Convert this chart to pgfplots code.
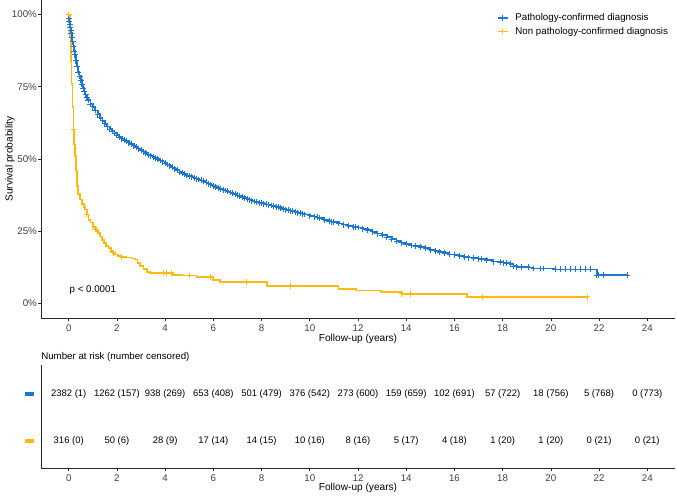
\documentclass[border=0pt]{standalone}
\usepackage{pgfplots}
\pgfplotsset{compat=1.18}
\usepackage{fontspec}
\setmainfont{Liberation Sans}
\definecolor{kblue}{RGB}{30,118,210}
\definecolor{korange}{RGB}{255,185,15}
\begin{document}
\fontsize{7.3}{8.8}\selectfont
\begin{tikzpicture}
\useasboundingbox (0,0) rectangle (507.75pt,-373.5pt);
\pgfplotsset{
  kmbase/.style={scale only axis, width=475.5pt, xmin=-1.15, xmax=25.15,
    axis x line*=bottom, axis y line*=left,
    axis line style={-, black!85, line width=0.5pt},
    tick align=outside, major tick length=2.3pt,
    tick style={black!85, line width=0.5pt},
    xtick={0,2,...,24}, xticklabels={0,2,4,6,8,10,12,14,16,18,20,22,24},
    ticklabel style={font=\fontsize{7.3}{8.8}\selectfont, text=black!75},
    label style={font=\fontsize{7.6}{9}\selectfont},
    /pgf/number format/assume math mode=true, clip=false}
}
% ---------------- survival plot ----------------
\begin{axis}[kmbase, at={(30.75pt,-238.5pt)}, anchor=south west, height=238.5pt,
  ymin=-0.05, ymax=1.05,
  ytick={0,0.25,0.5,0.75,1}, yticklabels={0\%,25\%,50\%,75\%,100\%},
  yticklabel style={xshift=1.8pt},
  xlabel={Follow-up (years)}, ylabel={Survival probability},
  xlabel style={at={(axis description cs:0.5,-0.066)}, anchor=center},
  ylabel style={at={(axis description cs:-0.049,0.5)}, anchor=center},
  legend style={at={(0.719,0.962)}, anchor=north west, draw=none, fill=none,
    font=\fontsize{7.3}{8.8}\selectfont, row sep=1.8pt, column sep=4pt, inner sep=0pt,
    nodes={inner sep=1pt}},
  legend cell align=left,
  legend image code/.code={\draw[mark repeat=2,mark phase=2,#1] plot coordinates {(0cm,0cm) (0.13cm,0cm) (0.26cm,0cm)};}
]
\addplot[korange, line width=1.3pt, const plot, mark=none, forget plot] coordinates {
(0,1.0) (0.04,0.92) (0.08,0.84) (0.12,0.76) (0.16,0.68) (0.2,0.602) (0.23,0.55) (0.27,0.51)
(0.3,0.46) (0.34,0.406) (0.4,0.38) (0.47,0.36) (0.55,0.345) (0.62,0.335) (0.68,0.325) (0.75,0.308)
(0.82,0.29) (0.9,0.28) (1.0,0.265) (1.1,0.256) (1.2,0.245) (1.3,0.232) (1.37,0.221) (1.45,0.21)
(1.55,0.20) (1.65,0.193) (1.75,0.183) (1.85,0.176) (1.93,0.17) (2.05,0.165) (2.17,0.162) (2.4,0.159)
(2.6,0.156) (2.76,0.152) (2.85,0.14) (2.96,0.129) (3.1,0.12) (3.25,0.11) (3.38,0.106) (4.34,0.10)
(4.69,0.097) (5.3,0.091) (6.0,0.081) (6.28,0.075) (8.22,0.06) (11.19,0.051) (11.93,0.045) (12.95,0.039)
(13.82,0.034) (16.52,0.023) (21.5,0.023)
};
\addplot[korange, only marks, mark=+, mark size=2.2pt, mark options={line width=0.75pt}, forget plot] coordinates {
(0,1.0) (0.2,0.602) (0.75,0.308) (1.1,0.256) (1.15,0.256) (1.85,0.176) (2.17,0.162) (3.92,0.106)
(4.05,0.106) (4.25,0.106) (5.0,0.097) (5.87,0.091) (7.39,0.075) (9.19,0.06) (13.82,0.034) (14.17,0.034)
(17.15,0.023) (21.5,0.023)
};
\addplot[kblue, line width=1.3pt, const plot, mark=+, mark size=2.2pt, mark options={solid, line width=0.75pt}] coordinates {
(0,0.985) (0.02,0.975) (0.04,0.965) (0.06,0.955) (0.08,0.945) (0.1,0.935) (0.13,0.92) (0.16,0.905)
(0.2,0.89) (0.22,0.873) (0.25,0.86) (0.3,0.84) (0.35,0.82) (0.4,0.80) (0.45,0.786) (0.5,0.772)
(0.55,0.758) (0.6,0.745) (0.65,0.733) (0.7,0.722) (0.75,0.712) (0.8,0.703) (0.9,0.69) (1.0,0.68)
(1.1,0.668) (1.2,0.655) (1.3,0.643) (1.4,0.632) (1.5,0.622) (1.6,0.612) (1.7,0.603) (1.8,0.596)
(1.9,0.589) (2.0,0.582) (2.1,0.576) (2.2,0.570) (2.3,0.565) (2.4,0.561) (2.5,0.556) (2.6,0.551)
(2.7,0.546) (2.8,0.541) (2.9,0.535) (3.0,0.530) (3.1,0.525) (3.2,0.520) (3.3,0.515) (3.4,0.511)
(3.5,0.507) (3.6,0.503) (3.7,0.499) (3.8,0.495) (3.9,0.491) (4.0,0.486) (4.1,0.481) (4.2,0.476)
(4.3,0.471) (4.4,0.466) (4.5,0.461) (4.6,0.455) (4.7,0.451) (4.8,0.447) (4.9,0.443) (5.0,0.440)
(5.1,0.438) (5.2,0.435) (5.3,0.432) (5.4,0.429) (5.5,0.426) (5.6,0.423) (5.7,0.419) (5.8,0.415)
(5.9,0.411) (6.0,0.407) (6.1,0.403) (6.2,0.399) (6.3,0.396) (6.4,0.393) (6.5,0.391) (6.6,0.388)
(6.7,0.384) (6.8,0.381) (6.9,0.378) (7.0,0.374) (7.1,0.371) (7.2,0.368) (7.3,0.365) (7.4,0.362)
(7.5,0.359) (7.6,0.356) (7.7,0.353) (7.8,0.351) (7.9,0.349) (8.0,0.347) (8.1,0.345) (8.2,0.343)
(8.3,0.341) (8.4,0.339) (8.5,0.337) (8.6,0.335) (8.7,0.333) (8.8,0.330) (8.9,0.327) (9.0,0.325)
(9.1,0.323) (9.2,0.321) (9.3,0.319) (9.4,0.317) (9.5,0.314) (9.6,0.312) (9.7,0.310) (9.8,0.308)
(10.0,0.304) (10.2,0.300) (10.3,0.298) (10.4,0.295) (10.6,0.290) (10.8,0.285) (10.9,0.283) (11.0,0.281)
(11.2,0.277) (11.4,0.273) (11.6,0.269) (11.8,0.266) (11.9,0.265) (12.0,0.263) (12.2,0.259) (12.4,0.254)
(12.6,0.248) (12.8,0.242) (13.0,0.236) (13.2,0.229) (13.4,0.222) (13.6,0.216) (13.8,0.210) (14.0,0.205)
(14.2,0.201) (14.4,0.198) (14.6,0.195) (14.8,0.191) (15.0,0.186) (15.2,0.182) (15.4,0.178) (15.6,0.174)
(15.8,0.170) (16.0,0.168) (16.2,0.165) (16.4,0.162) (16.6,0.159) (16.8,0.157) (17.0,0.155) (17.14,0.155)
(17.35,0.150) (17.62,0.145) (17.90,0.143) (18.04,0.141) (18.18,0.139) (18.32,0.137) (18.45,0.129) (18.59,0.127)
(18.80,0.127) (19.08,0.125) (19.28,0.121) (19.56,0.121) (19.70,0.121) (20.18,0.118) (20.39,0.118) (20.60,0.118)
(20.80,0.118) (21.01,0.118) (21.22,0.118) (21.43,0.118) (21.64,0.118) (21.91,0.098) (21.98,0.098) (22.19,0.098)
(23.16,0.098)
};
\addlegendentry{Pathology-confirmed diagnosis}
\addlegendimage{korange, line width=1.3pt, mark=+, mark size=2.2pt, mark options={solid, line width=0.75pt}}
\addlegendentry{Non pathology-confirmed diagnosis}
\node[anchor=west, inner sep=0pt, font=\fontsize{7.3}{8.8}\selectfont] at (axis cs:0.03,0.048) {p < 0.0001};
\end{axis}
% ---------------- risk table ----------------
\begin{axis}[kmbase, at={(30.75pt,-351pt)}, anchor=south west, height=77.25pt,
  ymin=0.426, ymax=2.617, ytick={1,2},
  yticklabels={{\textcolor{korange}{\rule{7pt}{2.6pt}}},{\textcolor{kblue}{\rule{7pt}{2.6pt}}}},
  ytick style={draw=none},
  yticklabel style={xshift=0pt},
  xlabel={Follow-up (years)},
  xlabel style={at={(axis description cs:0.5,-0.194)}, anchor=center},
]
\addplot[draw=none, mark=none, nodes near coords, point meta=explicit symbolic,
  nodes near coords align={center},
  every node near coord/.append style={font=\fontsize{7.1}{8.5}\selectfont, text=black}]
  table[x=x, y=y, meta=label, col sep=comma] {
x,y,label
0,2,2382 (1)
2,2,1262 (157)
4,2,938 (269)
6,2,653 (408)
8,2,501 (479)
10,2,376 (542)
12,2,273 (600)
14,2,159 (659)
16,2,102 (691)
18,2,57 (722)
20,2,18 (756)
22,2,5 (768)
24,2,0 (773)
0,1,316 (0)
2,1,50 (6)
4,1,28 (9)
6,1,17 (14)
8,1,14 (15)
10,1,10 (16)
12,1,8 (16)
14,1,5 (17)
16,1,4 (18)
18,1,1 (20)
20,1,1 (20)
22,1,0 (21)
24,1,0 (21)
};
\node[anchor=west, inner sep=0pt] at ([yshift=6.2pt]rel axis cs:0,1) {Number at risk (number censored)};
\end{axis}
\end{tikzpicture}
\end{document}
